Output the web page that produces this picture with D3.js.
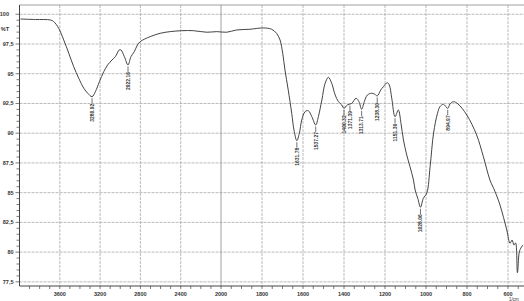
<!DOCTYPE html>
<html>
<head>
<meta charset="utf-8">
<script src="https://cdn.jsdelivr.net/npm/d3@7"></script>
<style>
  html, body { margin: 0; padding: 0; background: #fff; }
  svg { display: block; font-family: "Liberation Sans", Arial, sans-serif; }
</style>
</head>
<body>
<svg id="chart" width="524" height="301"></svg>
<script>
// IR 透過スペクトル（4000-2000 は圧縮スケール、2000 以下は拡大スケール）

// 波数 (cm-1)
const wavenumber = [
  3990, 3842, 3693, 3660, 3611, 3561, 3511, 3462, 3412, 3362, 3323, 3280, 3247, 3207,
  3164, 3125, 3082, 3049, 3010, 2993, 2959, 2923, 2894, 2861, 2829, 2802, 2703, 2604,
  2505, 2389, 2274, 2141, 2042, 1972, 1924, 1859, 1794, 1753, 1729, 1712, 1699, 1688,
  1672, 1655, 1644, 1630, 1618, 1606, 1590, 1574, 1557, 1538, 1525, 1508, 1492, 1476,
  1460, 1443, 1427, 1411, 1400, 1384, 1362, 1341, 1327, 1314, 1301, 1286, 1265, 1249,
  1238, 1221, 1208, 1189, 1179, 1167, 1151, 1135, 1122, 1110, 1094, 1078, 1061, 1053,
  1040, 1027, 1013, 996, 980, 963, 944, 932, 915, 894, 883, 866, 844, 801, 753, 720,
  688, 663, 639, 606, 590, 580, 571, 563, 554, 545, 537, 527
];
// 透過率 (%T)
const transmittance = [
  99.60, 99.56, 99.52, 99.38, 98.82, 97.84, 96.72, 95.59, 94.62, 93.78, 93.36, 93.07, 93.49, 94.33,
  95.17, 95.74, 96.16, 96.43, 97.00, 97.00, 96.43, 95.74, 96.43, 96.85, 97.42, 97.70, 98.12, 98.40,
  98.54, 98.62, 98.62, 98.49, 98.54, 98.49, 98.68, 98.74, 98.85, 98.74, 98.40, 97.84, 96.72, 95.32,
  93.63, 91.67, 90.27, 89.37, 89.99, 91.11, 91.81, 91.89, 91.39, 90.69, 91.39, 92.79, 94.20, 94.70,
  94.20, 93.21, 92.65, 92.37, 92.09, 92.37, 92.51, 92.94, 92.65, 92.01, 92.65, 93.21, 93.36, 93.27,
  93.13, 93.63, 93.91, 94.25, 94.05, 92.94, 91.39, 91.95, 90.83, 89.43, 88.17, 87.18, 86.06, 85.22,
  84.52, 83.77, 84.52, 84.97, 87.18, 90.02, 91.67, 92.23, 92.43, 92.09, 92.46, 92.65, 92.46, 91.53, 89.85, 88.02,
  86.06, 85.08, 83.96, 81.86, 80.74, 81.02, 80.60, 80.77, 78.27, 80.00, 80.35, 80.60
];

// ピーク
const peakWn = [3280, 2923, 1630, 1538, 1400, 1371, 1314, 1238, 1151, 1027, 894];
const peakT = [93.07, 95.74, 89.37, 90.69, 92.09, 92.45, 92.01, 93.13, 91.39, 83.77, 92.09];
const peakLabels = ["3280.92", "2922.16", "1631.78", "1537.27", "1400.32", "1371.39",
                    "1313.71", "1238.30", "1151.36", "1028.06", "894.97"];

// 目盛り
const xTickValues = [3600, 3200, 2800, 2400, 2000, 1800, 1600, 1400, 1200, 1000, 800, 600];
const yTickValues = [100, 97.5, 95, 92.5, 90, 87.5, 85, 82.5, 80, 77.5];

const svg = d3.select("#chart");

const x = d3.scaleLinear()
  .domain([4000, 2000, 400])
  .range([19.5, 221, 549]);
const y = d3.scaleLinear()
  .domain([100.78, 77.15])
  .range([5, 286]);

const plotLeft = 19.5, plotTop = 5, plotBottom = 286, plotRight = 524;

// グリッド（横）
svg.append("g")
  .selectAll("line")
  .data(yTickValues)
  .join("line")
    .attr("x1", plotLeft).attr("x2", plotRight)
    .attr("y1", d => y(d)).attr("y2", d => y(d))
    .attr("stroke", "#aaa")
    .attr("stroke-width", 0.8)
    .attr("stroke-dasharray", "3,1");

// グリッド（縦）
svg.append("g")
  .selectAll("line")
  .data(xTickValues)
  .join("line")
    .attr("x1", d => x(d)).attr("x2", d => x(d))
    .attr("y1", plotTop).attr("y2", plotBottom)
    .attr("stroke", d => d === 2000 ? "#888" : "#aaa")
    .attr("stroke-width", 0.8)
    .attr("stroke-dasharray", d => d === 2000 ? null : "3,1");

// 枠
svg.append("line")
  .attr("x1", plotLeft).attr("x2", plotRight).attr("y1", plotTop).attr("y2", plotTop)
  .attr("stroke", "#888").attr("stroke-width", 0.8);
svg.append("line")
  .attr("x1", plotLeft).attr("x2", plotLeft).attr("y1", plotTop).attr("y2", plotBottom)
  .attr("stroke", "#444").attr("stroke-width", 1);
svg.append("line")
  .attr("x1", plotLeft).attr("x2", plotRight).attr("y1", plotBottom).attr("y2", plotBottom)
  .attr("stroke", "#444").attr("stroke-width", 1);

// Y 軸の小目盛り（0.5 %T ごと）
const yMinor = d3.range(775, 1001, 5).map(d => d / 10);
svg.append("g")
  .selectAll("line")
  .data(yMinor)
  .join("line")
    .attr("x1", d => (Math.round(d * 10) % 25 === 0) ? plotLeft - 4 : plotLeft - 3)
    .attr("x2", plotLeft)
    .attr("y1", d => y(d)).attr("y2", d => y(d))
    .attr("stroke", "#444").attr("stroke-width", 0.7);

// X 軸の小目盛り
const xMinor = d3.range(3900, 2000, -100).concat(d3.range(2000, 549, -50));
svg.append("g")
  .selectAll("line")
  .data(xMinor.filter(d => x(d) < plotRight))
  .join("line")
    .attr("x1", d => x(d)).attr("x2", d => x(d))
    .attr("y1", plotBottom).attr("y2", plotBottom + 3)
    .attr("stroke", "#444").attr("stroke-width", 0.7);

// X ラベル
svg.append("g")
  .selectAll("text")
  .data(xTickValues)
  .join("text")
    .attr("x", d => x(d))
    .attr("y", 296)
    .attr("text-anchor", "middle")
    .attr("font-size", "5.5px")
    .attr("font-weight", "bold")
    .attr("fill", "#333")
    .text(d => d);

svg.append("text")
  .attr("x", 509).attr("y", 300.5)
  .attr("font-size", "4.5px").attr("fill", "#333")
  .text("1/cm");

// Y ラベル
svg.append("g")
  .selectAll("text")
  .data(yTickValues)
  .join("text")
    .attr("x", d => d === 100 ? 9 : 13.5)
    .attr("y", d => y(d) + 2)
    .attr("text-anchor", "end")
    .attr("font-size", "5.5px")
    .attr("font-weight", "bold")
    .attr("fill", "#333")
    .text(d => d === 100 ? "100" : String(d).replace(".", ","));

svg.append("text")
  .attr("x", 9).attr("y", 31)
  .attr("text-anchor", "end")
  .attr("font-size", "5.5px").attr("font-weight", "bold").attr("fill", "#333")
  .text("%T");

// スペクトル
const pts = wavenumber.map((w, i) => [w, transmittance[i]]);
const line = d3.line()
  .x(d => x(d[0]))
  .y(d => y(d[1]))
  .curve(d3.curveCatmullRom.alpha(0.5));
svg.append("path")
  .attr("d", line(pts))
  .attr("fill", "none")
  .attr("stroke", "#444")
  .attr("stroke-width", 1);

// ピークラベル
const pk = svg.append("g")
  .selectAll("g")
  .data(peakWn.map((w, i) => ({ w, t: peakT[i], label: peakLabels[i] })))
  .join("g");
pk.append("line")
  .attr("x1", d => x(d.w)).attr("x2", d => x(d.w))
  .attr("y1", d => y(d.t) + 1.5).attr("y2", d => y(d.t) + 7)
  .attr("stroke", "#333").attr("stroke-width", 0.7);
pk.append("text")
  .attr("transform", d => `translate(${x(d.w) + 1.8},${y(d.t) + 7}) rotate(-90)`)
  .attr("text-anchor", "end")
  .attr("font-size", "5px")
  .attr("font-weight", "bold")
  .attr("fill", "#333")
  .text(d => d.label);
</script>
</body>
</html>
